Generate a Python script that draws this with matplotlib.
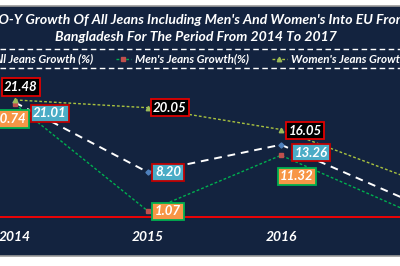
import matplotlib
matplotlib.use('Agg')
import matplotlib.pyplot as plt
from matplotlib.patches import Rectangle
from matplotlib.lines import Line2D

# data
years = ['2014', '2015', '2016', '2017']
all_growth = [21.01, 8.20, 13.26, 2.6]
mens_growth = [20.74, 1.07, 11.32, 0.6]
womens_growth = [21.48, 20.05, 16.05, 6.8]
series_names = ['All Jeans Growth (%)', "Men's Jeans Growth(%)", "Women's Jeans Growth(%)"]

navy = '#13233F'
W, H = 400, 266
fnt = 'Lato'

fig = plt.figure(figsize=(4, 2.66), dpi=100, facecolor='white')

# navy panel with a grey border line
fig.patches.append(Rectangle((-0.01, 10 / H), 1.02, 250 / H, transform=fig.transFigure,
                             facecolor=navy, edgecolor='#9a9a9a', linewidth=1.2, zorder=-5))

# axes: bottom spine is the red zero line at y=217 px from top
ax = fig.add_axes([0, (H - 217) / H, 1, (217 - 73) / H])
ax.set_zorder(2)
ax.set_facecolor('none')
ax.set_xlim(-0.113, 2.895)
ax.set_ylim(0, (217 - 73) / 5.45)
for s in ['top', 'left', 'right']:
    ax.spines[s].set_visible(False)
ax.spines['bottom'].set_color('#FF0000')
ax.spines['bottom'].set_linewidth(1.3)
ax.set_yticks([])
x = list(range(len(years)))
ax.set_xticks(x[:3])
ax.set_xticklabels(years[:3], color='white', fontweight='bold', fontstyle='italic', family=fnt, fontsize=10)
ax.tick_params(axis='x', length=0, pad=10)

styles = [
    dict(color='white', lw=1.4, dashes=(4, 3), marker='D', ms=2.6, mfc='#4F81BD', mec='#4F81BD'),
    dict(color='#00B050', lw=1, dashes=(2, 1.5), marker='s', ms=3.2, mfc='#C0504D', mec='#C0504D'),
    dict(color='#A9C23F', lw=1, dashes=(2, 1.5), marker='^', ms=3.2, mfc='#9BBB59', mec='#9BBB59'),
]
for k, ys in enumerate([all_growth, mens_growth, womens_growth]):
    ax.plot(x, ys, zorder=3 + k, **styles[k])

def label(i, v, dx, dy, face, edge):
    ax.annotate('%.2f' % v, (i, v), xytext=(dx, dy), textcoords='offset pixels',
                ha='center', va='center', color='white', fontsize=9.5, fontweight='bold',
                fontstyle='italic', family=fnt, annotation_clip=False, zorder=10,
                bbox=dict(boxstyle='square,pad=0.2', fc=face, ec=edge, lw=1.3))

wom_off = [(6, 13), (22, 0), (24, -1)]
men_off = [(-5, -15), (20, 0), (16, -21)]
all_off = [(35, -11), (20, 0), (30, -8)]
for i in range(3):
    label(i, womens_growth[i], *wom_off[i], 'black', '#E00000')
    label(i, mens_growth[i], *men_off[i], '#F79646', '#00B050')
    label(i, all_growth[i], *all_off[i], '#4BACC6', '#C00000')

# legend between two dashed lines, entries placed by hand
for yy in [49, 68]:
    fig.add_artist(Line2D([0, 1], [(H - yy) / H] * 2, transform=fig.transFigure,
                          color='white', lw=1, dashes=(4, 2.5)))
ly = (H - 59) / H
marker_x = [-19, 123, 279]
for k in range(3):
    mx = marker_x[k]
    st = styles[k]
    fig.add_artist(Line2D([(mx - 7) / W, (mx + 8) / W], [ly, ly], transform=fig.transFigure,
                          color=st['color'], lw=min(st['lw'], 1.2), dashes=st['dashes']))
    fig.add_artist(Line2D([mx / W], [ly], transform=fig.transFigure, marker=st['marker'], ms=st['ms'],
                          mfc=st['mfc'], mec=st['mec'], ls='none'))
    fig.text((mx + 12) / W, ly, series_names[k], ha='left', va='center', color='white',
             fontsize=8.4, fontweight='bold', fontstyle='italic', family=fnt)

fig.text(196 / W, (H - 20) / H, "Y-O-Y Growth Of All Jeans Including Men's And Women's Into EU From",
         ha='center', va='center', color='white', fontsize=10.1, fontweight='bold', fontstyle='italic', family=fnt)
fig.text(196 / W, (H - 37) / H, "Bangladesh For The Period From 2014 To 2017",
         ha='center', va='center', color='white', fontsize=10.1, fontweight='bold', fontstyle='italic', family=fnt)

fig.savefig('out.png', dpi=100, facecolor='white')
